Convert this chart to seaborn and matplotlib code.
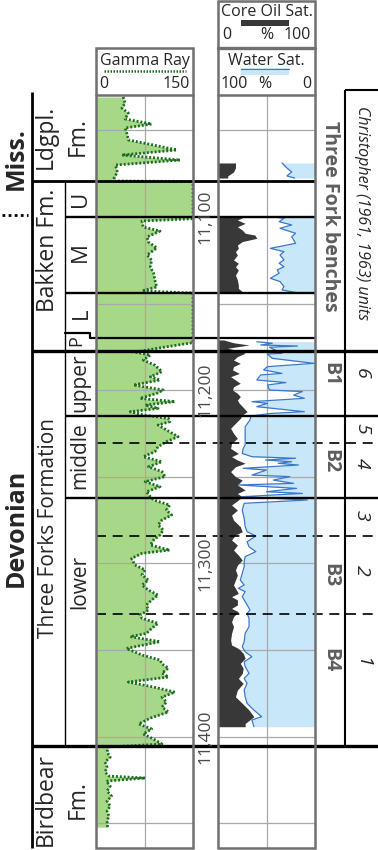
import numpy as np
import pandas as pd
import matplotlib
matplotlib.use("Agg")
import matplotlib.pyplot as plt
from matplotlib.patches import Rectangle
import seaborn as sns

# ---------------------------------------------------------------- data
# Gamma ray log (depth in ft, API units; off-scale shale shown as 150)
gr_depth = [11030.7, 11034.2, 11037.1, 11040.0, 11043.4, 11046.3, 11048.6, 11052.1,
            11055.5, 11059.0, 11061.3, 11064.2, 11067.1, 11070.0, 11074.0, 11077.5,
            11079.2, 11079.5, 11101.0, 11102.3, 11105.8, 11108.1, 11111.5, 11114.4,
            11117.9, 11121.9, 11124.8, 11128.9, 11132.3, 11136.4, 11140.4, 11142.7,
            11143.9, 11172.5, 11175.5, 11178.0, 11179.7, 11182.6, 11185.5, 11189.3,
            11192.2, 11194.1, 11197.0, 11199.9, 11201.8, 11204.7, 11206.6, 11208.6,
            11210.5, 11212.4, 11214.3, 11216.3, 11218.2, 11220.1, 11223.0, 11226.8,
            11229.7, 11232.6, 11235.5, 11238.4, 11241.3, 11244.2, 11247.0, 11249.9,
            11252.8, 11255.7, 11258.6, 11261.5, 11263.4, 11266.3, 11269.2, 11272.1,
            11274.9, 11277.8, 11280.7, 11283.6, 11286.5, 11289.4, 11292.3, 11294.2,
            11297.1, 11300.9, 11303.8, 11306.7, 11309.6, 11312.5, 11315.4, 11318.3,
            11321.1, 11324.0, 11326.9, 11329.8, 11331.7, 11334.6, 11337.5, 11340.4,
            11342.3, 11345.2, 11349.1, 11352.9, 11355.8, 11358.1, 11360.4, 11363.3,
            11365.6, 11368.5, 11371.4, 11374.3, 11377.2, 11380.0, 11382.9, 11385.8,
            11389.3, 11392.7, 11395.6, 11398.5, 11401.4, 11404.3, 11406.0, 11408.9,
            11411.8, 11414.7, 11417.6, 11420.5, 11422.8, 11423.9, 11425.7, 11428.6,
            11431.4, 11434.3, 11437.2, 11440.1, 11443.0, 11445.9, 11448.8, 11452.3]
gr_api = [42, 45, 40, 50, 45, 86, 45, 48,
          50, 96, 125, 40, 130, 30, 33, 28,
          28, 150, 150, 71, 73, 99, 79, 81,
          94, 79, 86, 84, 89, 91, 94, 71,
          150, 150, 100, 60, 84, 73, 91, 102,
          84, 99, 58, 104, 94, 68, 122, 76,
          96, 53, 73, 112, 114, 96, 109, 127,
          109, 96, 91, 73, 102, 81, 102, 107,
          76, 99, 78, 84, 89, 114, 109, 117,
          102, 96, 104, 99, 89, 84, 114, 71,
          55, 60, 76, 71, 81, 71, 81, 96,
          86, 78, 81, 68, 71, 96, 86, 78,
          53, 99, 47, 71, 99, 102, 112, 102,
          112, 50, 89, 122, 102, 109, 102, 112,
          84, 66, 86, 73, 89, 102, 19, 17,
          22, 14, 17, 14, 20, 76, 16, 22,
          17, 24, 17, 22, 17, 20, 17, 18]

# Core oil saturation (%), cored intervals
oil_depth = [11068.8, 11071.7, 11074.0, 11076.3, 11077.5,
             11099.8, 11101.7, 11103.7, 11105.6, 11107.5, 11109.4, 11110.4, 11112.3,
             11114.2, 11116.2, 11118.1, 11120.0, 11122.0, 11124.8, 11126.7, 11128.7,
             11130.6, 11133.5, 11136.4, 11139.3, 11141.2, 11143.1,
             11171.0, 11172.6, 11173.9, 11174.9, 11175.8,
             11177.2, 11178.7, 11180.6, 11182.6, 11184.5, 11186.4, 11188.3, 11190.3,
             11192.2, 11194.1, 11196.0, 11198.0, 11199.9, 11201.8, 11203.7, 11205.7,
             11207.6, 11210.5, 11212.4, 11214.3,
             11216.3, 11219.1, 11222.0, 11224.9, 11227.8, 11230.7, 11233.6, 11236.5,
             11238.4, 11240.3, 11242.2, 11244.2,
             11247.0, 11249.9, 11251.9, 11254.7, 11257.6, 11259.6, 11261.5, 11263.4,
             11266.3, 11269.2,
             11272.1, 11275.0, 11278.8, 11281.7, 11283.6, 11286.5, 11289.4, 11292.3,
             11295.2, 11298.1, 11301.0, 11303.8, 11306.7, 11309.6, 11312.5, 11314.4,
             11317.3, 11319.2, 11321.1, 11324.0, 11326.0, 11327.9, 11330.8, 11333.7,
             11336.5, 11340.4, 11344.2, 11347.1, 11349.1, 11351.9, 11354.8, 11357.7,
             11360.6, 11363.5, 11366.4, 11369.3, 11373.1, 11377.0, 11380.8, 11384.7,
             11388.5, 11392.4, 11394.3]
oil_sat = [18, 18, 16, 10, 10,
           28, 20, 28, 20, 25, 28, 38, 40,
           25, 20, 21, 18, 20, 16, 21, 18,
           21, 18, 20, 21, 21, 25,
           6, 16, 32, 20, 10,
           22, 28, 20, 16, 23, 16, 15, 22,
           13, 18, 23, 16, 15, 20, 23, 20,
           22, 27, 30, 25,
           23, 18, 13, 16, 20, 14, 13, 21,
           14, 20, 28, 18,
           13, 18, 25, 20, 28, 20, 25, 21,
           14, 20,
           14, 16, 23, 25, 18, 14, 20, 16,
           21, 25, 20, 18, 20, 18, 16, 18,
           21, 14, 20, 20, 14, 21, 16, 14,
           16, 14, 13, 14, 21, 26, 28, 23,
           26, 25, 21, 26, 20, 18, 25, 32,
           37, 28, 28]

# Water saturation (%), same cored intervals
water_depth = [11068.8, 11071.7, 11074.0, 11076.3, 11077.5,
               11099.8, 11100.8, 11102.7, 11104.6, 11106.5, 11109.4, 11111.4, 11115.2,
               11118.1, 11120.0, 11122.0, 11124.8, 11126.7, 11128.7, 11130.6, 11132.5,
               11135.4, 11137.3, 11140.2, 11142.1, 11143.7,
               11172.0, 11172.9, 11173.9, 11174.5, 11175.2,
               11178.7, 11179.1, 11181.6, 11184.5, 11186.4, 11188.3, 11190.3, 11191.2,
               11194.1, 11195.6, 11197.0, 11199.9, 11200.8, 11202.8, 11204.7, 11206.6,
               11207.6, 11209.5, 11212.4, 11213.4,
               11214.9, 11217.2, 11221.1, 11224.9, 11228.8, 11231.6, 11233.6, 11236.5,
               11238.4, 11239.3, 11240.3, 11241.3, 11242.2, 11243.2, 11245.1, 11246.1,
               11249.0, 11249.9, 11251.9, 11253.8, 11254.7, 11256.7, 11258.6, 11259.6,
               11261.5, 11263.4,
               11265.3, 11269.2, 11274.0, 11278.8, 11281.7, 11284.2, 11287.5, 11290.4,
               11293.2, 11296.1, 11299.0, 11301.9, 11305.8, 11309.6, 11312.5, 11314.4,
               11316.3, 11319.2, 11321.1, 11324.0, 11326.9, 11328.9, 11331.7, 11336.5,
               11340.4, 11345.2, 11348.1, 11351.0, 11353.9, 11356.8, 11359.6, 11363.5,
               11366.4, 11369.3, 11373.1, 11377.0, 11380.8, 11384.7, 11388.5, 11390.4,
               11394.3]
water_sat = [34, 29, 24, 29, 21,
             43, 32, 37, 24, 36, 20, 24, 20,
             46, 32, 36, 32, 37, 32, 39, 37,
             46, 36, 32, 34, 19,
             60, 44, 56, 18, 47,
             34, 49, 44, 1, 49, 53, 34, 56,
             60, 30, 49, 47, 13, 22, 11, 65,
             49, 60, 11, 45,
             66, 67, 72, 72, 72, 72, 74, 75,
             65, 20, 51, 24, 38, 17, 74, 50,
             65, 26, 43, 22, 79, 19, 50, 13,
             75, 8,
             73, 75, 73, 72, 70, 61, 70, 68,
             61, 72, 73, 73, 75, 77, 73, 79,
             72, 75, 73, 70, 67, 70, 68, 68,
             72, 73, 75, 72, 65, 73, 72, 68,
             73, 70, 73, 72, 70, 63, 55, 65,
             63]

# Stratigraphic boundaries (ft)
top_ldgpl = 11028.0
top_bakken = 11079.2
top_mid_bakken = 11100.0
top_low_bakken = 11144.0
top_pronghorn_col = 11167.0
top_pronghorn = 11170.0
top_three_forks = 11177.4
top_tf_middle = 11215.0
top_tf_lower = 11262.0
top_birdbear = 11405.5
unit_dashed = [11230.5, 11284.2, 11329.0]

grid_depths = [11050, 11100, 11150, 11200, 11250, 11300, 11350, 11400, 11450]
depth_ticks = [11100, 11200, 11300, 11400]
depth_tick_labels = ["11,100", "11,200", "11,300", "11,400"]

bench_labels = ["B1", "B2", "B3", "B4"]
bench_centers = [11191, 11241, 11307, 11356]
unit_labels = ["6", "5", "4", "3", "2", "1"]
unit_centers = [11190, 11222, 11242, 11272, 11304, 11357]

# ---------------------------------------------------------------- style
sns.set_theme(style="white")
plt.rcParams["font.family"] = ["Open Sans", "DejaVu Sans"]

GREEN_FILL = "#a6d888"
GREEN_LINE = "#1b6e1f"
OIL = "#383838"
WATER_FILL = "#c8e7f8"
WATER_LINE = "#3b78cc"
GRID = "#a9a9a9"
BORDER = "#707070"

W, H = 378, 850
fig = plt.figure(figsize=(W / 100, H / 100), dpi=100)


def ax_px(x0, y0, x1, y1, z):
    return fig.add_axes([x0 / W, 1 - y1 / H, (x1 - x0) / W, (y1 - y0) / H], zorder=z)


def y2d(ypx):
    return 11100 + (ypx - 217) / 1.732


D_TOP, D_BOT = y2d(95), y2d(848)

# ---------------------------------------------------------------- tracks
ax_gr = ax_px(96, 95, 193, 848, 1)
ax_sat = ax_px(218, 95, 315, 848, 1)
for a, xmax, xmid in ((ax_gr, 150, 75), (ax_sat, 100, 50)):
    a.set_xlim(0, xmax)
    a.set_ylim(D_BOT, D_TOP)
    for d in grid_depths:
        a.axhline(d, color=GRID, lw=0.9, zorder=0.5)
    a.axvline(xmid, color=GRID, lw=0.9, zorder=0.5)
    a.set_xticks([])
    a.set_yticks([])
    for s in a.spines.values():
        s.set_visible(False)

gr_df = pd.DataFrame({"depth": gr_depth, "gr": gr_api})
ax_gr.fill_betweenx(gr_df["depth"], 0, gr_df["gr"], color=GREEN_FILL, lw=0, zorder=0.4)
sns.lineplot(data=gr_df, x="gr", y="depth", orient="y", sort=False, estimator=None,
             ax=ax_gr, color=GREEN_LINE, lw=2.0, linestyle=(0, (0.7, 0.7)), zorder=2)

seg_edges = [top_bakken, top_low_bakken + 5]
oil_df = pd.DataFrame({"depth": oil_depth, "so": oil_sat})
oil_df["seg"] = np.digitize(oil_df["depth"], seg_edges)
wat_df = pd.DataFrame({"depth": water_depth, "sw": water_sat})
wat_df["seg"] = np.digitize(wat_df["depth"], seg_edges)
wat_df["x"] = 100 - wat_df["sw"]
for _, g in wat_df.groupby("seg"):
    ax_sat.fill_betweenx(g["depth"], g["x"], 100, color=WATER_FILL, lw=0, zorder=0.4)
for _, g in oil_df.groupby("seg"):
    ax_sat.fill_betweenx(g["depth"], 0, g["so"], color=OIL, lw=0, zorder=1)
sns.lineplot(data=wat_df, x="x", y="depth", units="seg", estimator=None, sort=False,
             orient="y", ax=ax_sat, color=WATER_LINE, lw=0.9, zorder=2)
for a in (ax_gr, ax_sat):
    a.set_xlabel("")
    a.set_ylabel("")
    a.set_ylim(D_BOT, D_TOP)

# ---------------------------------------------------------------- overlay (depth coords)
ov = ax_px(0, 95, W, 848, 5)
ov.set_xlim(0, W)
ov.set_ylim(D_BOT, D_TOP)
ov.axis("off")
ov.patch.set_alpha(0)


def hl(d, x0, x1, lw=2.0):
    ov.plot([x0, x1], [d, d], color="black", lw=lw, clip_on=False, solid_capstyle="butt")


def vl(x, d0, d1, lw=2.0):
    ov.plot([x, x], [d0, d1], color="black", lw=lw, clip_on=False, solid_capstyle="butt")


hl(top_bakken, 32, 315)
hl(top_mid_bakken, 65, 315, lw=1.7)
hl(top_low_bakken, 65, 315, lw=1.7)
ov.plot([65, 90, 90, 315], [top_pronghorn_col, top_pronghorn_col, top_pronghorn, top_pronghorn],
        color="black", lw=1.6, clip_on=False)
hl(top_three_forks, 32, W, lw=2.4)
hl(top_tf_middle, 65, W, lw=1.7)
hl(top_tf_lower, 65, W, lw=1.7)
for d in unit_dashed:
    ov.plot([96, W], [d, d], color="black", lw=1.2, dashes=(6, 4), clip_on=False)
hl(top_birdbear, 32, W, lw=2.4)
vl(32, y2d(92), D_BOT, lw=2.0)
vl(65, top_bakken, top_birdbear, lw=1.0)
vl(345, y2d(90), top_birdbear, lw=1.5)
hl(y2d(90), 345, W, lw=1.5)
ov.plot([2, 28], [y2d(215)] * 2, color="black", lw=2.0, linestyle=(0, (1, 1.2)), clip_on=False)

TXT = dict(ha="center", va="center", rotation_mode="anchor")
ov.text(16, y2d(159), "Miss.", rotation=90, fontsize=18, fontweight="bold", **TXT)
ov.text(16, y2d(528), "Devonian", rotation=90, fontsize=18, fontweight="bold", **TXT)
ov.text(46, y2d(137), "Ldgpl.", rotation=90, fontsize=16.5, **TXT)
ov.text(78, y2d(137), "Fm.", rotation=90, fontsize=16.5, **TXT)
ov.text(48, y2d(250), "Bakken Fm.", rotation=90, fontsize=16.5, **TXT)
ov.text(80, y2d(199), "U", rotation=90, fontsize=16, **TXT)
ov.text(80, y2d(252), "M", rotation=90, fontsize=16, **TXT)
ov.text(81, y2d(313), "L", rotation=90, fontsize=16, **TXT)
ov.text(76, y2d(341), "P", rotation=90, fontsize=13, **TXT)
ov.text(49, y2d(528), "Three Forks Formation", rotation=90, fontsize=15, **TXT)
ov.text(80, y2d(383), "upper", rotation=90, fontsize=15, **TXT)
ov.text(80, y2d(456), "middle", rotation=90, fontsize=15, **TXT)
ov.text(80, y2d(582), "lower", rotation=90, fontsize=15, **TXT)
ov.text(46, y2d(800), "Birdbear", rotation=90, fontsize=16.5, **TXT)
ov.text(78, y2d(800), "Fm.", rotation=90, fontsize=16.5, **TXT)

for d, lab in zip(depth_ticks, depth_tick_labels):
    ov.text(205, d, lab, rotation=90, fontsize=12.5, color="#4a4a4a", **TXT)

ov.text(330, y2d(216), "Three Fork benches", rotation=270, fontsize=14,
        fontweight="bold", color="#5e5e5e", **TXT)
ov.text(362, y2d(213), "Christopher (1961, 1963) units", rotation=270, fontsize=11.5,
        style="italic", **TXT)
for lab, d in zip(bench_labels, bench_centers):
    ov.text(330, d, lab, rotation=270, fontsize=14, fontweight="bold", color="#5e5e5e", **TXT)
for lab, d in zip(unit_labels, unit_centers):
    ov.text(362, d, lab, rotation=270, fontsize=14, style="italic", **TXT)

# ---------------------------------------------------------------- headers / frames (pixel coords)
hx = fig.add_axes([0, 0, 1, 1], zorder=10)
hx.set_xlim(0, W)
hx.set_ylim(H, 0)
hx.axis("off")
hx.patch.set_alpha(0)

hx.add_patch(Rectangle((96, 48), 97, 800, fill=False, ec=BORDER, lw=1.8))
hx.plot([96, 193], [95, 95], color=BORDER, lw=1.8)
hx.add_patch(Rectangle((218, 1), 97, 847, fill=False, ec=BORDER, lw=1.8))
hx.plot([218, 315], [47.5, 47.5], color=BORDER, lw=2.4)
hx.plot([218, 315], [95, 95], color=BORDER, lw=1.8)

HF = 11.5
hx.text(144.5, 61, "Gamma Ray", fontsize=HF, ha="center", va="center")
hx.plot([104, 186], [71, 71], color=GREEN_LINE, lw=1.8, linestyle=(0, (0.6, 0.6)))
hx.text(99, 84, "0", fontsize=HF, ha="left", va="center")
hx.text(190, 84, "150", fontsize=HF, ha="right", va="center")

hx.text(266.5, 12, "Core Oil Sat.", fontsize=HF, ha="center", va="center")
hx.add_patch(Rectangle((241, 20), 48, 6, color=OIL, lw=0))
hx.text(222, 35, "0", fontsize=HF, ha="left", va="center")
hx.text(267, 35, "%", fontsize=HF, ha="center", va="center")
hx.text(311, 35, "100", fontsize=HF, ha="right", va="center")

hx.text(266.5, 61, "Water Sat.", fontsize=HF, ha="center", va="center")
hx.add_patch(Rectangle((241, 68), 48, 7, color=WATER_FILL, lw=0))
hx.plot([241, 289], [68.5, 68.5], color=WATER_LINE, lw=0.8)
hx.text(221, 84, "100", fontsize=HF, ha="left", va="center")
hx.text(265, 84, "%", fontsize=HF, ha="center", va="center")
hx.text(311, 84, "0", fontsize=HF, ha="right", va="center")

fig.savefig("out.png", dpi=100)
